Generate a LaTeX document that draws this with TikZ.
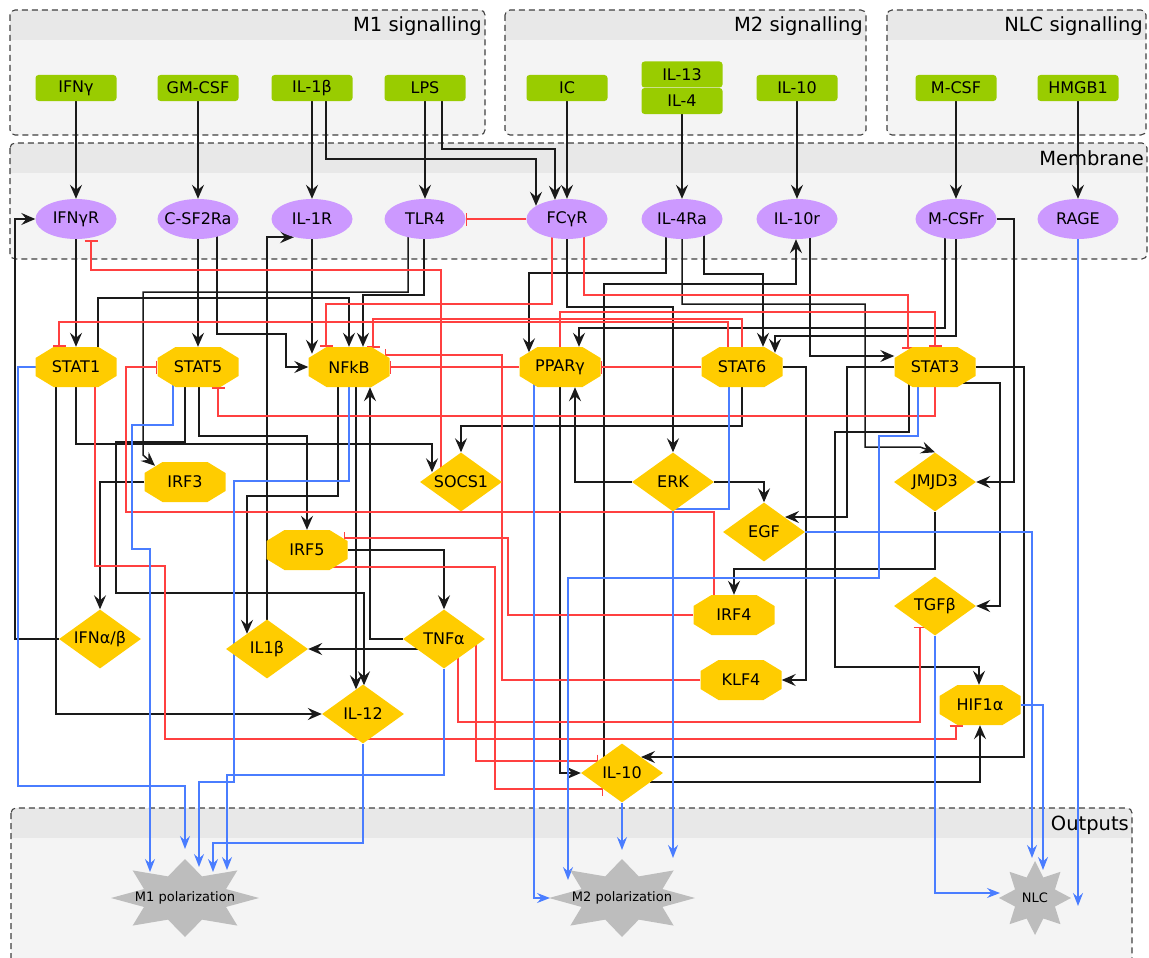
\documentclass[tikz,border=0pt]{standalone}
\usepackage{fontspec}
\setmainfont{DejaVu Sans}
\usetikzlibrary{shapes.geometric,arrows.meta,calc}

\definecolor{groupfill}{HTML}{F4F4F4}
\definecolor{grouphead}{HTML}{E8E8E8}
\definecolor{ligand}{HTML}{99CC00}
\definecolor{receptor}{HTML}{CC99FF}
\definecolor{factor}{HTML}{FFCC00}
\definecolor{starfill}{HTML}{BDBDBD}
\definecolor{actcol}{HTML}{1A1A1A}
\definecolor{inhcol}{HTML}{FF4040}
\definecolor{outcol}{HTML}{4A7DFF}

\pgfdeclarelayer{boxes}
\pgfdeclarelayer{edges}
\pgfsetlayers{boxes,edges,main}

% group panel: name, x1, y1, x2, y2, title
\newcommand{\groupbox}[6]{%
  \fill[groupfill, rounded corners=5pt] (#2,#3) rectangle (#4,#5);
  \begin{scope}
    \clip[rounded corners=5pt] (#2,#3) rectangle (#4,#5);
    \fill[grouphead] (#2,#3) rectangle (#4,#3+30);
  \end{scope}
  \draw[groupline] (#2,#3) rectangle (#4,#5);
  \node[grouptitle] (#1) at (#4-3,#3+22) {#6};
}

% octagon node: name, position, text
\newcommand{\octnode}[3]{%
  \fill[factor, shift={(#2)}] (-22.5,-20) -- (22.5,-20) -- (40.5,-9) -- (40.5,9)
    -- (22.5,20) -- (-22.5,20) -- (-40.5,9) -- (-40.5,-9) -- cycle;
  \node[octbox] (#1) at (#2) {#3};
}

% eight point star: name, position, x radius, y radius, text
\newcommand{\starnode}[5]{%
  \fill[starfill, shift={(#2)}] (#3,0) \foreach \k in {1,...,15}{
    -- ({#3*(1-0.4*mod(\k,2))*cos(22.5*\k)},{#4*(1-0.4*mod(\k,2))*sin(22.5*\k)}) } -- cycle;
  \node[startext] (#1) at (#2) {#5};
}

\begin{document}
\begin{tikzpicture}[x=1pt, y=-1pt,
    every node/.style={font=\fontsize{16}{19}\selectfont},
    groupline/.style={draw=black!75, line width=1.1pt, dash pattern=on 6pt off 4pt, rounded corners=5pt},
    grouptitle/.style={anchor=base east, inner sep=0pt, font=\fontsize{19.5}{22}\selectfont},
    ligandbox/.style={rectangle, rounded corners=3pt, fill=ligand, minimum width=81pt, minimum height=26pt, inner sep=0pt},
    receptorbox/.style={ellipse, fill=receptor, minimum width=81pt, minimum height=40pt, inner xsep=-10pt, inner ysep=0pt},
    octbox/.style={rectangle, minimum width=81pt, minimum height=40pt, inner sep=0pt},
    diabox/.style={diamond, fill=factor, aspect=1.4, minimum width=82pt, minimum height=59pt, inner sep=0pt},
    startext/.style={inner sep=0pt, font=\fontsize{13}{15}\selectfont},
    act/.style={draw=actcol, line width=1.5pt, -{Stealth[length=14pt,width=12pt,inset=5pt]}},
    inh/.style={draw=inhcol, line width=1.5pt, -{Bar[width=13pt,line width=1.5pt]}},
    outp/.style={draw=outcol, line width=1.4pt, -{Stealth[length=13pt,width=10pt,inset=4.5pt]}}]

    \useasboundingbox (0,0) rectangle (1149,958);

    % --- Panels ---
    \begin{pgfonlayer}{boxes}
    \groupbox{tM1}{10}{10}{485}{135}{M1 signalling}
    \groupbox{tM2}{505}{10}{866}{135}{M2 signalling}
    \groupbox{tNLC}{887}{10}{1146}{135}{NLC signalling}
    \groupbox{tMem}{10}{143}{1147}{259}{Membrane}
    \groupbox{tOut}{11}{808}{1132}{985}{Outputs}
    \end{pgfonlayer}

    % --- Ligands ---
    \node[ligandbox] (gIFNg) at (76,88) {IFNγ};
    \node[ligandbox] (gGMCSF) at (198,88) {GM-CSF};
    \node[ligandbox] (gIL1b) at (312,88) {IL-1β};
    \node[ligandbox] (gLPS) at (425,88) {LPS};
    \node[ligandbox] (gIC) at (567,88) {IC};
    \node[ligandbox] (gIL13) at (682,74.5) {IL-13};
    \node[ligandbox] (gIL4) at (682,101) {IL-4};
    \node[ligandbox] (gIL10) at (797,88) {IL-10};
    \node[ligandbox] (gMCSF) at (956,88) {M-CSF};
    \node[ligandbox] (gHMGB1) at (1078,88) {HMGB1};

    % --- Receptors ---
    \node[receptorbox] (rIFNgR) at (76,219) {IFNγR};
    \node[receptorbox] (rCSF2Ra) at (198,219) {C-SF2Ra};
    \node[receptorbox] (rIL1R) at (312,219) {IL-1R};
    \node[receptorbox] (rTLR4) at (425,219) {TLR4};
    \node[receptorbox] (rFCgR) at (567,219) {FCγR};
    \node[receptorbox] (rIL4Ra) at (682,219) {IL-4Ra};
    \node[receptorbox] (rIL10r) at (797,219) {IL-10r};
    \node[receptorbox] (rMCSFr) at (956,219) {M-CSFr};
    \node[receptorbox] (rRAGE) at (1078,219) {RAGE};

    % --- Transcription factors ---
    \octnode{STAT1}{76,367}{STAT1}
    \octnode{STAT5}{198,367}{STAT5}
    \octnode{NFkB}{349,367}{NFkB}
    \octnode{PPARg}{560,367}{PPARγ}
    \octnode{STAT6}{742,367}{STAT6}
    \octnode{STAT3}{935,367}{STAT3}
    \octnode{IRF3}{185,482}{IRF3}
    \octnode{IRF5}{307,550}{IRF5}
    \octnode{IRF4}{734,615}{IRF4}
    \octnode{KLF4}{741,680}{KLF4}
    \octnode{HIF1a}{980,705}{HIF1α}

    % --- Mediators ---
    \node[diabox] (SOCS1) at (461,482) {SOCS1};
    \node[diabox] (ERK) at (673,482) {ERK};
    \node[diabox] (JMJD3) at (935,482) {JMJD3};
    \node[diabox] (EGF) at (764,532) {EGF};
    \node[diabox] (TGFb) at (935,606) {TGFβ};
    \node[diabox] (IFNab) at (100,639) {IFNα/β};
    \node[diabox] (IL1b) at (267,649) {IL1β};
    \node[diabox] (TNFa) at (444,639) {TNFα};
    \node[diabox] (IL12) at (363,714) {IL-12};
    \node[diabox] (IL10) at (622,773) {IL-10};

    % --- Outputs ---
    \starnode{M1}{185,898}{74}{39}{M1 polarization}
    \starnode{M2}{622,898}{73}{39}{M2 polarization}
    \starnode{NLC}{1035,898}{36}{37}{NLC}

    \begin{pgfonlayer}{edges}
    % --- Ligand to receptor ---
    \draw[act] (gIFNg) -- (rIFNgR);
    \draw[act] (gGMCSF) -- (rCSF2Ra);
    \draw[act] (gIL1b) -- (rIL1R);
    \draw[act] ([xshift=14pt]gIL1b.center) |- (536,159) -- ([xshift=-31pt,yshift=-7pt]rFCgR.north);
    \draw[act] (gLPS) -- (rTLR4);
    \draw[act] ([xshift=17pt]gLPS.center) |- (555,149) -- ([xshift=-12pt,yshift=-1pt]rFCgR.north);
    \draw[act] (gIC) -- (rFCgR);
    \draw[act] (gIL4) -- (rIL4Ra);
    \draw[act] (gIL10) -- (rIL10r);
    \draw[act] (gMCSF) -- (rMCSFr);
    \draw[act] (gHMGB1) -- (rRAGE);

    % --- Activations ---
    \draw[act] (rIFNgR) -- (STAT1);
    \draw[act] (IFNab.west) -| (15,219) -- (rIFNgR.west);
    \draw[act] (rCSF2Ra) -- (STAT5);
    \draw[act] ([xshift=19pt]rCSF2Ra.center) |- (286,334) |- (NFkB.west);
    \draw[act] (rIL1R.south) -- ([xshift=-37pt,yshift=-7pt]NFkB.north);
    \draw[act] (IL1b.center) |- ([xshift=-18pt,yshift=2pt]rIL1R.south);
    \draw[act] ([xshift=-17pt]rTLR4.center) |- (143,292) -- (143,455) -- ([xshift=-30pt,yshift=-4pt]IRF3.north);
    \draw[act] ([xshift=-1pt]rTLR4.center) |- (363,295) -- ([xshift=14pt]NFkB.north);
    \draw[act] ([xshift=22pt]STAT1.center) |- (349,298) -- (NFkB.north);
    \draw[act] (STAT1.center) |- (432,444) -- ([xshift=-29pt,yshift=-20pt]SOCS1.north);
    \draw[act] ([xshift=-20pt]STAT1.center) |- (IL12.west);
    \draw[act] ([xshift=-13pt]STAT5.center) |- (116,442) |- (364,593) -- ([xshift=1pt,yshift=-1pt]IL12.north);
    \draw[act] ([xshift=1pt]STAT5.center) |- (307,436) -- (IRF5.north);
    \draw[act] (IRF3.west) -| (IFNab.north);
    \draw[act] ([xshift=-11pt]NFkB.center) |- (247,496) -- ([xshift=-20pt,yshift=-14.5pt]IL1b.north);
    \draw[act] ([xshift=7pt]NFkB.center) -- ([xshift=-7pt,yshift=-5pt]IL12.north);
    \draw[act] (TNFa.west) -| ([xshift=21pt]NFkB.south);
    \draw[act] (IRF5.east) -| (TNFa.north);
    \draw[act] ([yshift=-10pt]TNFa.center) -- (IL1b.east);
    \draw[act] (STAT6.center) |- (461,426) -- (SOCS1.north);
    \draw[act] ([xshift=-16pt]rIL4Ra.center) |- (529,273) -- ([xshift=-31pt,yshift=-5.5pt]PPARg.north);
    \draw[act] (rFCgR.center) |- (673,307) -- (ERK.north);
    \draw[act] (ERK.west) -| ([xshift=15pt]PPARg.south);
    \draw[act] (PPARg.center) |- (IL10.west);
    \draw[act] ([xshift=-11pt]rMCSFr.center) |- (579,328) -- ([xshift=19pt]PPARg.north);
    \draw[act] (rMCSFr.center) |- (775,336) -- ([xshift=33pt,yshift=-6pt]STAT6.north);
    \draw[act] ([xshift=22pt]rIL4Ra.center) |- (763,274) -- ([xshift=21pt]STAT6.north);
    \draw[act] (rIL4Ra.center) |- (865,304) |- (920,447) -- (JMJD3.north);
    \draw[act] ([xshift=-18pt]IL10.center) |- (796,284) -- ([xshift=-1pt]rIL10r.south);
    \draw[act] ([xshift=13pt]rIL10r.center) |- ([yshift=11pt]STAT3.west);
    \draw[act] (rMCSFr.east) -| (1014,482) -- (JMJD3.east);
    \draw[act] (STAT3.west) -| (847,517) -- ([xshift=21pt,yshift=15pt]EGF.center);
    \draw[act] (STAT3.east) -| (1024,757) -- ([xshift=19pt,yshift=16pt]IL10.center);
    \draw[act] ([xshift=25pt,yshift=-16pt]STAT3.center) -| (1000,606) -- (TGFb.east);
    \draw[act] ([xshift=-26pt]STAT3.center) |- (835,432) |- (979,667) -- ([xshift=-1pt]HIF1a.north);
    \draw[act] (STAT6.east) -| (806,680) -- (KLF4.east);
    \draw[act] (ERK.east) -| (EGF.north);
    \draw[act] (JMJD3.south) |- (734,569) -- (IRF4.north);
    \draw[act] ([xshift=28pt,yshift=-9pt]IL10.center) -| (HIF1a.south);

    % --- Inhibitions ---
    \draw[inh] (rFCgR) -- (rTLR4);
    \draw[inh] ([xshift=-20pt]SOCS1.center) |- (91,270) -- ([xshift=15pt,yshift=-1pt]rIFNgR.south);
    \draw[inh] ([xshift=-15pt]rFCgR.center) |- (326,304) -- ([xshift=-23pt]NFkB.north);
    \draw[inh] ([xshift=17pt]rFCgR.center) |- (908,295) -- ([xshift=-27pt,yshift=-2pt]STAT3.north);
    \draw[inh] (PPARg.center) |- (935,312) -- (STAT3.north);
    \draw[inh] ([xshift=-14pt]STAT6.center) |- (59,322) -- ([xshift=-17pt]STAT1.north);
    \draw[inh] (STAT6.center) |- (373,319) -- ([xshift=24pt,yshift=-1pt]NFkB.north);
    \draw[inh] (PPARg.west) -- (NFkB.east);
    \draw[inh] (KLF4.west) -| (502,355) -- ([xshift=-5pt,yshift=12pt]NFkB.east);
    \draw[inh] (STAT6.west) -- (PPARg.east);
    \draw[inh] (STAT3.center) |- (218,416) -- ([xshift=20pt]STAT5.south);
    \draw[inh] ([xshift=-20pt]IRF4.center) |- (126,512) |- (STAT5.west);
    \draw[inh] ([xshift=19pt]STAT1.center) |- (165,566) |- (956,739) -- ([xshift=-24pt]HIF1a.south);
    \draw[inh] ([xshift=14pt]TNFa.center) |- (920,722) -- ([xshift=-15pt,yshift=9pt]TGFb.south);
    \draw[inh] ([xshift=32pt]TNFa.center) |- ([xshift=-24pt,yshift=12pt]IL10.center);
    \draw[inh] ([xshift=23pt,yshift=-17pt]IRF5.center) -| (495,789) -- ([xshift=-19pt,yshift=-16pt]IL10.center);
    \draw[inh] (IRF4.west) -| (508,538) -- ([xshift=-4pt,yshift=12pt]IRF5.east);

    % --- Polarization outputs ---
    \draw[outp] (STAT1.center) -| (18,786) -| ($(M1.center)+(0,-49)$);
    \draw[outp] ([xshift=-25pt]STAT5.center) |- (132,425) |- (150,549) -- ($(M1.center)+(-35,-26)$);
    \draw[outp] (NFkB.center) |- (234,481) |- (199,782) -- ($(M1.center)+(14,-31)$);
    \draw[outp] (IL12.south) |- (213,843) -- ($(M1.center)+(28,-26)$);
    \draw[outp] (TNFa.south) |- (227,775) -- ($(M1.center)+(42,-28)$);
    \draw[outp] ([xshift=-26pt]PPARg.center) |- ($(M2.center)+(-72,0)$);
    \draw[outp] ([xshift=-17pt]STAT3.center) |- (879,436) |- (568,578) -- ($(M2.center)+(-54,-18)$);
    \draw[outp] (IL10.south) -- ($(M2.center)+(0,-48)$);
    \draw[outp] ([xshift=-13pt]STAT6.center) |- (673,509) -- ($(M2.center)+(51,-40)$);
    \draw[outp] (TGFb.south) |- ($(NLC.center)+(-35,-5)$);
    \draw[outp] (EGF.east) -| ($(NLC.center)+(-3,-40)$);
    \draw[outp] (HIF1a.east) -| ($(NLC.center)+(8,-28)$);
    \draw[outp] (rRAGE.south) -- ($(NLC.center)+(43,8)$);
    \end{pgfonlayer}

\end{tikzpicture}
\end{document}
